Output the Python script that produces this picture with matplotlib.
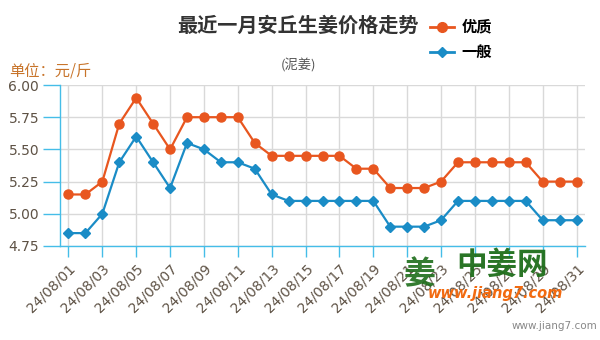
import matplotlib
matplotlib.use("Agg")
import matplotlib.pyplot as plt
from matplotlib.lines import Line2D

plt.rcParams['font.family'] = ['Noto Sans CJK SC', 'DejaVu Sans']

days = [f"24/08/{d:02d}" for d in range(1, 32)]
premium = [5.15, 5.15, 5.25, 5.70, 5.90, 5.70, 5.50, 5.75, 5.75, 5.75, 5.75, 5.55,
           5.45, 5.45, 5.45, 5.45, 5.45, 5.35, 5.35, 5.20, 5.20, 5.20, 5.25, 5.40,
           5.40, 5.40, 5.40, 5.40, 5.25, 5.25, 5.25]
ordinary = [4.85, 4.85, 5.00, 5.40, 5.60, 5.40, 5.20, 5.55, 5.50, 5.40, 5.40, 5.35,
            5.15, 5.10, 5.10, 5.10, 5.10, 5.10, 5.10, 4.90, 4.90, 4.90, 4.95, 5.10,
            5.10, 5.10, 5.10, 5.10, 4.95, 4.95, 4.95]
yticks = [4.75, 5.00, 5.25, 5.50, 5.75, 6.00]
series_names = ["优质", "一般"]

c_orange = "#E8561F"
c_blue = "#1A8CC6"
c_axis = "#45BDE8"
c_lbl = "#5E5245"

fig = plt.figure(figsize=(6, 3.4), dpi=100)
ax = fig.add_axes([0.1, 0.2765, 0.875, 0.4735])

x = list(range(len(days)))
ax.plot(x, premium, color=c_orange, lw=1.6, marker='o', ms=6.5, zorder=3, clip_on=False)
ax.plot(x, ordinary, color=c_blue, lw=1.6, marker='D', ms=5, zorder=3, clip_on=False)

ax.set_xlim(-0.5, 30.5)
ax.set_ylim(4.75, 6.00)
ax.set_yticks(yticks)
ax.set_yticklabels([f"{v:.2f}" for v in yticks], family='DejaVu Sans')
ax.set_xticks(x[::2])
ax.set_xticklabels(days[::2], rotation=45, ha='right', rotation_mode='anchor',
                   family='DejaVu Sans')

ax.grid(True, color='#D9D9D9', lw=1)
ax.set_axisbelow(True)
for s in ['top', 'right']:
    ax.spines[s].set_visible(False)
for s in ['left', 'bottom']:
    ax.spines[s].set_color(c_axis)
    ax.spines[s].set_linewidth(1)
ax.tick_params(axis='y', colors=c_axis, length=12, width=1, labelcolor=c_lbl, labelsize=10, pad=3)
ax.tick_params(axis='x', colors=c_axis, length=8, width=1, labelcolor=c_lbl, labelsize=10, pad=3)

fig.text(0.497, 0.925, "最近一月安丘生姜价格走势", ha='center', va='center',
         fontsize=14.5, fontweight='bold', color='#333333')
fig.text(0.498, 0.808, "(泥姜)", ha='center', va='center', fontsize=9.5, color='#555555')
fig.text(0.015, 0.79, "单位：元/斤", ha='left', va='center', fontsize=11, color='#C8742A')

handles = [Line2D([0], [0], color=c_orange, lw=2, marker='o', ms=7),
           Line2D([0], [0], color=c_blue, lw=2, marker='D', ms=5)]
fig.legend(handles, series_names, loc='upper left', bbox_to_anchor=(0.693, 0.985),
           frameon=False, handlelength=1.6, handletextpad=0.5,
           labelspacing=0.6, prop={'weight': 'bold', 'size': 11})

# watermark
fig.text(0.70, 0.19, "姜", ha='center', va='center', fontsize=23, fontweight='bold',
         color='#1E6E1A', alpha=0.9)
fig.text(0.837, 0.222, "中姜网", ha='center', va='center', fontsize=22, fontweight='bold',
         color='#1E6E1A', alpha=0.95)
fig.text(0.825, 0.138, "www.jiang7.com", ha='center', va='center', fontsize=10.5,
         fontweight='bold', style='italic', color='#F26A10', family='DejaVu Sans')
fig.text(0.995, 0.04, "www.jiang7.com", ha='right', va='center', fontsize=7.5,
         color='#888888', family='DejaVu Sans')

fig.savefig("out.png", dpi=100)
